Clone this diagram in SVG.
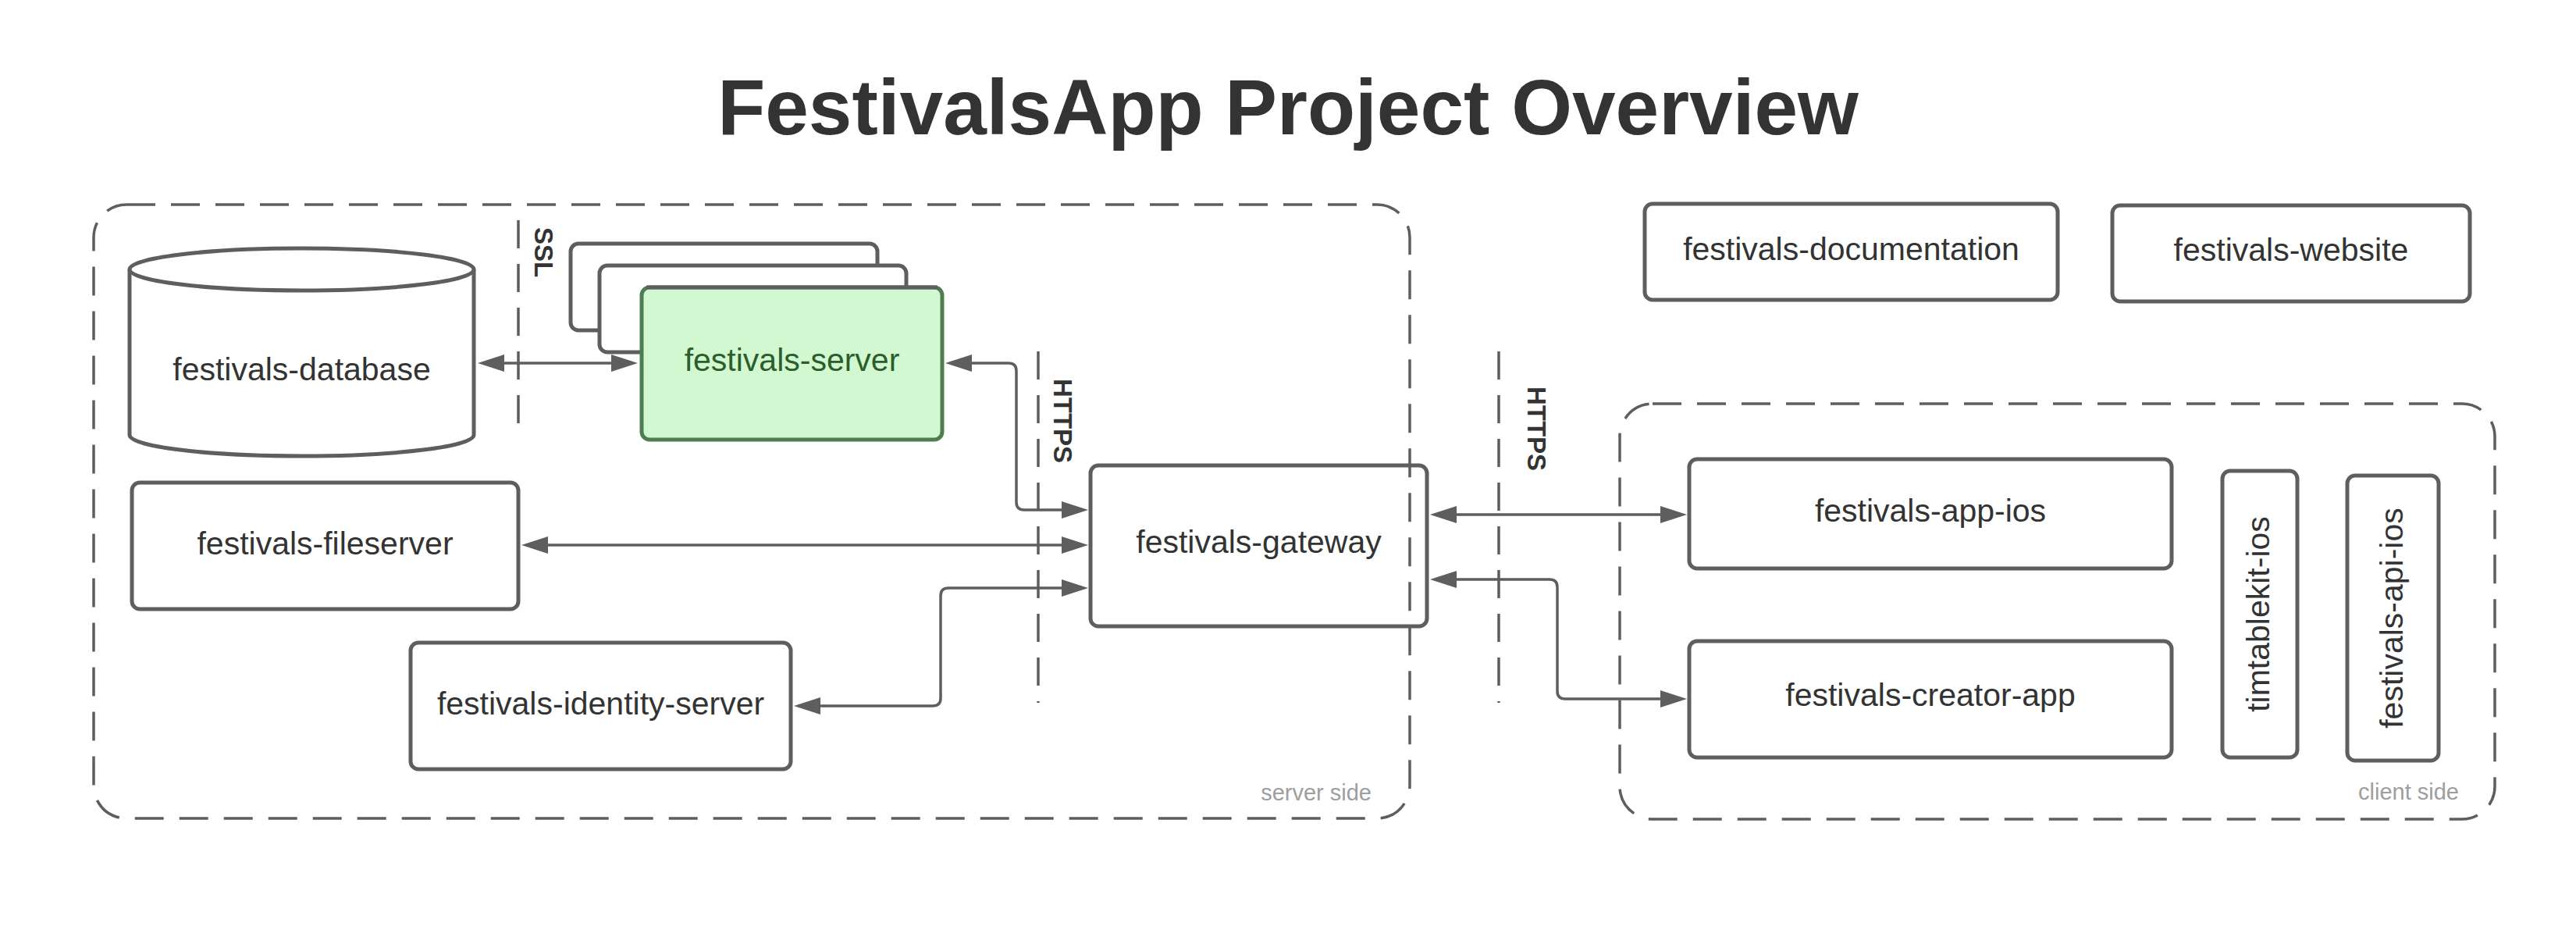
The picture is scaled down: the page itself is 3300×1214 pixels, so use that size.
<svg xmlns="http://www.w3.org/2000/svg" width="3300" height="1214" viewBox="0 0 3300 1214">
<style>
.bg{fill:#ffffff}
.cont{fill:none;stroke:#5e5e5e;stroke-width:3.5;stroke-dasharray:37 20}
.vdash{fill:none;stroke:#5e5e5e;stroke-width:3.5;stroke-dasharray:36 20}
.node{fill:#ffffff;stroke:#5e5e5e;stroke-width:5}
.lbl{font-family:"Liberation Sans",Arial,sans-serif;font-size:41px;fill:#333333;text-anchor:middle}
.proto{font-family:"Liberation Sans",Arial,sans-serif;font-size:33px;font-weight:bold;fill:#333333;text-anchor:middle}
.side{font-family:"Liberation Sans",Arial,sans-serif;font-size:29px;fill:#9e9e9e;text-anchor:end}
.title{font-family:"Liberation Sans",Arial,sans-serif;font-size:100px;font-weight:bold;fill:#333333;text-anchor:middle}
.conn{fill:none;stroke:#5e5e5e;stroke-width:3.5;marker-start:url(#arr);marker-end:url(#arr)}
</style>
<defs>
<marker id="arr" markerUnits="userSpaceOnUse" markerWidth="34" markerHeight="22" refX="0" refY="11" orient="auto-start-reverse" overflow="visible">
<path d="M0,0 L34,11 L0,22 Z" fill="#5e5e5e"/>
</marker>
</defs>
<rect class="bg" x="0" y="0" width="3300" height="1214"/>

<text class="title" x="1650" y="172">FestivalsApp Project Overview</text>

<g id="server-side">
<rect class="cont" x="120" y="262" width="1686" height="786" rx="42" ry="42"/>
<text class="side" x="1757" y="1025">server side</text>
</g>
<g id="client-side">
<rect class="cont" x="2075" y="517" width="1121" height="532" rx="42" ry="42"/>
<text class="side" x="3150" y="1024">client side</text>
</g>

<g id="boundaries">
<line class="vdash" x1="664" y1="282" x2="664" y2="555"/>
<text class="proto" x="685" y="323" transform="rotate(90 685 323)">SSL</text>
<line class="vdash" x1="1330" y1="450" x2="1330" y2="900"/>
<text class="proto" x="1350" y="539" transform="rotate(90 1350 539)">HTTPS</text>
<line class="vdash" x1="1920" y1="450" x2="1920" y2="900"/>
<text class="proto" x="1957" y="549" transform="rotate(90 1957 549)">HTTPS</text>
</g>

<g id="festivals-database">
<path class="node" d="M166,345 V557 A220.5,27 0 0,0 607,557 V345"/>
<ellipse class="node" cx="386.5" cy="345" rx="220.5" ry="27"/>
<text class="lbl" x="386.5" y="487">festivals-database</text>
</g>

<g id="festivals-server">
<rect class="node" x="731" y="312" width="393" height="111" rx="10"/>
<rect class="node" x="768" y="340" width="393" height="111" rx="10"/>
<rect x="822" y="368" width="385" height="195" rx="10" fill="#d1f8d1" stroke="#4f7d4f" stroke-width="5"/>
<path d="M828,368 H1201" fill="none" stroke="#5e5e5e" stroke-width="5"/>
<text class="lbl" x="1014.5" y="475" style="fill:#2b5e2b">festivals-server</text>
</g>

<g id="festivals-fileserver">
<rect class="node" x="169" y="618" width="495" height="162" rx="10"/>
<text class="lbl" x="416.5" y="710">festivals-fileserver</text>
</g>

<g id="festivals-identity-server">
<rect class="node" x="526" y="823" width="487" height="162" rx="10"/>
<text class="lbl" x="769.5" y="915">festivals-identity-server</text>
</g>

<g id="festivals-gateway">
<rect class="node" x="1397" y="596" width="431" height="206" rx="10" style="fill:none"/>
<text class="lbl" x="1612.5" y="708">festivals-gateway</text>
</g>

<g id="festivals-documentation">
<rect class="node" x="2107" y="261" width="529" height="123" rx="10"/>
<text class="lbl" x="2371.5" y="333">festivals-documentation</text>
</g>

<g id="festivals-website">
<rect class="node" x="2706" y="263" width="458" height="123" rx="10"/>
<text class="lbl" x="2935" y="334">festivals-website</text>
</g>

<g id="festivals-app-ios">
<rect class="node" x="2164" y="588" width="618" height="140" rx="10"/>
<text class="lbl" x="2473" y="668">festivals-app-ios</text>
</g>

<g id="festivals-creator-app">
<rect class="node" x="2164" y="821" width="618" height="149" rx="10"/>
<text class="lbl" x="2473" y="904">festivals-creator-app</text>
</g>

<g id="timtablekit-ios">
<rect class="node" x="2847" y="603" width="96" height="367" rx="10"/>
<text class="lbl" x="2895" y="786.5" transform="rotate(-90 2895 786.5)" dy="12">timtablekit-ios</text>
</g>

<g id="festivals-api-ios">
<rect class="node" x="3007" y="609" width="117" height="365" rx="10"/>
<text class="lbl" x="3065.5" y="791.5" transform="rotate(-90 3065.5 791.5)" dy="12">festivals-api-ios</text>
</g>

<g id="connectors">
<path class="conn" d="M646,465 H783"/>
<path class="conn" d="M1245,465 H1292 Q1302,465 1302,475 V643 Q1302,653 1312,653 H1360"/>
<path class="conn" d="M702,698 H1360"/>
<path class="conn" d="M1051,904 H1195 Q1205,904 1205,894 V763 Q1205,753 1215,753 H1360"/>
<path class="conn" d="M1866,659 H2127"/>
<path class="conn" d="M1866,742 H1985 Q1995,742 1995,752 V885 Q1995,895 2005,895 H2127"/>
</g>
</svg>
